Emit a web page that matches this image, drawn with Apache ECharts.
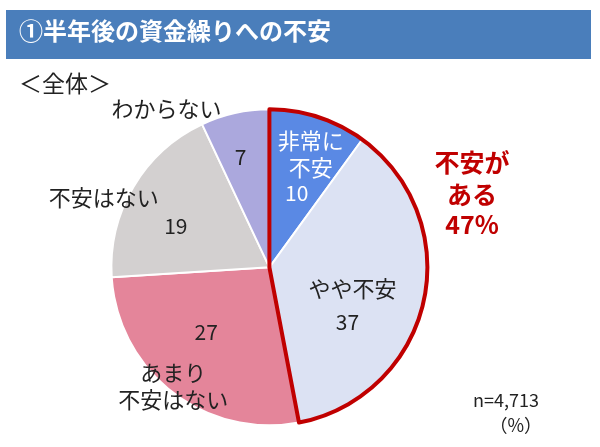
<!DOCTYPE html>
<html>
<head>
<meta charset="utf-8">
<script src="https://cdn.jsdelivr.net/npm/echarts@6/dist/echarts.min.js"></script>
<style>
  html, body { margin: 0; padding: 0; background: #fff; }
  #main { width: 600px; height: 447px; }
</style>
</head>
<body>
<div id="main"></div>
<script>
var names = ['非常に不安', 'やや不安', 'あまり不安はない', '不安はない', 'わからない'];
var labelNames = ['非常に\n不安', 'やや不安', 'あまり\n不安はない', '不安はない', 'わからない'];
var values = [10, 37, 27, 19, 7];
var colors = ['#5a89e4', '#dce2f3', '#e4859a', '#d3d0d0', '#aba8dd'];
var groupLabel = '不安が\nある';
var sampleText = 'n=4,713';
var unitText = '（%）';

// offsets of the value labels / name labels from the default inside position
var valueShift = [[2, 4], [-2, 37], [-13, 0], [-23, 0], [-11, -30]];
var nameShift = [[16, -35], [3, 3], [-46, 54], [-95, -28], [-85, -79]];

var concern = values[0] + values[1];
var rest = values.reduce(function (a, b) { return a + b; }, 0) - concern;

var center = ['44.9%', '59.8%'];
var radius = 158;
var font = '"Noto Sans CJK JP", "Noto Sans", sans-serif';

var chart = echarts.init(document.getElementById('main'));

var pieData = names.map(function (n, i) {
    return {name: n, value: values[i], itemStyle: {color: colors[i]}};
});

var option = {
    animation: false,
    graphic: [
        {type: 'rect', left: 6, top: 10, shape: {width: 585, height: 49}, style: {fill: '#4a7ebb'}},
        {type: 'text', left: 19, top: 19, style: {text: '①半年後の資金繰りへの不安', fill: '#fff', font: 'bold 24px ' + font}},
        {type: 'text', left: 19, top: 72, style: {text: '＜全体＞', fill: '#222', font: '23px ' + font}},
        {type: 'text', x: 472, y: 146, style: {text: groupLabel, fill: '#c00000', font: 'bold 25px ' + font, align: 'center', lineHeight: 32}},
        {type: 'text', x: 472, y: 212, style: {text: concern + '%', fill: '#c00000', font: 'bold 25px ' + font, align: 'center'}},
        {type: 'text', right: 61, top: 391, style: {text: sampleText, fill: '#222', font: '18px ' + font}},
        {type: 'text', right: 58, top: 416, style: {text: unitText, fill: '#222', font: '18px ' + font}}
    ],
    series: [
        {
            type: 'pie',
            center: center,
            radius: radius,
            startAngle: 90,
            clockwise: true,
            silent: true,
            itemStyle: {borderColor: '#fff', borderWidth: 2},
            label: {
                position: 'inside',
                fontSize: 21,
                fontFamily: font,
                color: '#222',
                formatter: function (p) { return String(p.value); }
            },
            labelLayout: function (p) {
                return {dx: valueShift[p.dataIndex][0], dy: valueShift[p.dataIndex][1]};
            },
            data: pieData.map(function (d, i) {
                if (i === 0) d.label = {color: '#fff'};
                return d;
            }),
            z: 1
        },
        {
            type: 'pie',
            center: center,
            radius: radius,
            startAngle: 90,
            clockwise: true,
            silent: true,
            itemStyle: {color: 'rgba(0,0,0,0)'},
            label: {
                position: 'inside',
                fontSize: 22,
                lineHeight: 27,
                fontFamily: font,
                color: '#222',
                formatter: function (p) { return labelNames[p.dataIndex]; }
            },
            labelLayout: function (p) {
                return {dx: nameShift[p.dataIndex][0], dy: nameShift[p.dataIndex][1]};
            },
            data: names.map(function (n, i) {
                var d = {name: n, value: values[i]};
                if (i === 0) d.label = {color: '#fff'};
                return d;
            }),
            z: 2
        },
        {
            type: 'pie',
            center: center,
            radius: radius,
            startAngle: 90,
            clockwise: true,
            silent: true,
            label: {show: false},
            labelLine: {show: false},
            data: [
                {name: '不安がある', value: concern, itemStyle: {color: 'rgba(0,0,0,0)', borderColor: '#c00000', borderWidth: 4}},
                {name: 'その他', value: rest, itemStyle: {color: 'rgba(0,0,0,0)', borderWidth: 0}}
            ],
            z: 3
        }
    ]
};

chart.setOption(option);
</script>
</body>
</html>
